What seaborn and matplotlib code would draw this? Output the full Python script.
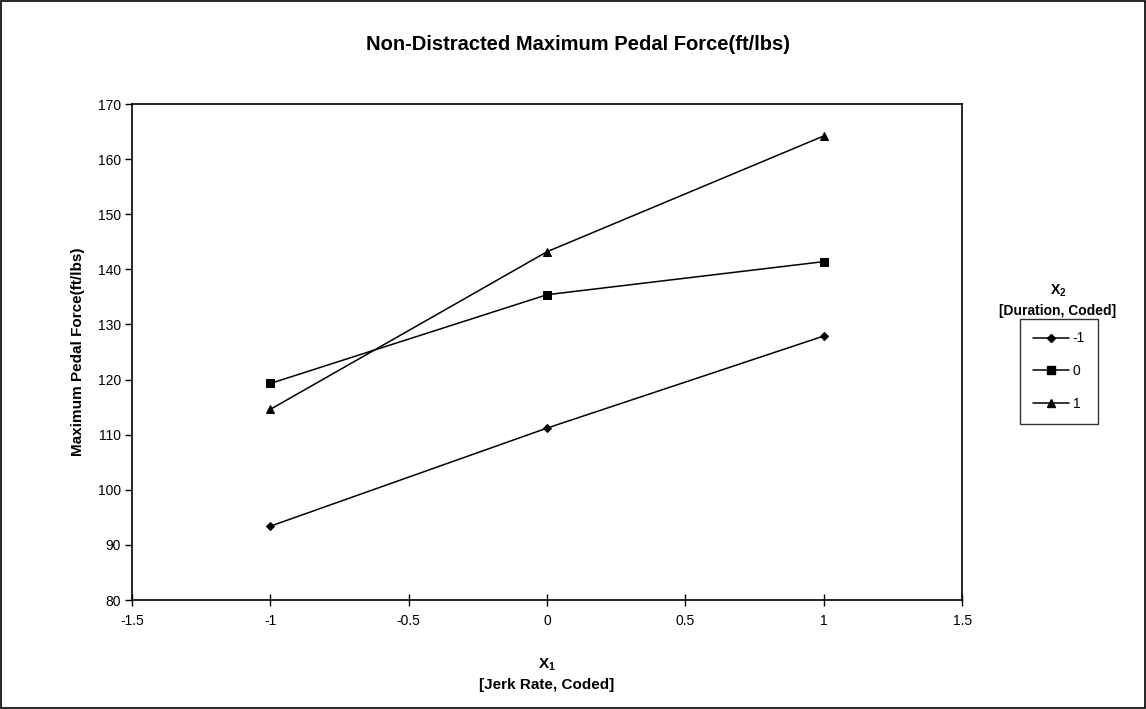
import pandas as pd
import numpy as np
import matplotlib
matplotlib.use('Agg')
import matplotlib.pyplot as plt
import seaborn as sns
from matplotlib.lines import Line2D
from matplotlib.patches import Rectangle

# values
x1_levels = [-1, 0, 1]
x2_labels = ['-1', '0', '1']
force_x2_minus = [93.4, 111.2, 127.9]
force_x2_zero = [119.3, 135.4, 141.4]
force_x2_plus = [114.6, 143.2, 164.2]

data = pd.DataFrame({
    'X1': x1_levels * 3,
    'X2': np.repeat(x2_labels, 3),
    'force': force_x2_minus + force_x2_zero + force_x2_plus,
})

sns.set_style('white')
plt.rcParams['font.family'] = ['Liberation Sans', 'DejaVu Sans']
plt.rcParams['mathtext.fontset'] = 'custom'
plt.rcParams['mathtext.rm'] = 'Liberation Sans'
plt.rcParams['mathtext.bf'] = 'Liberation Sans:bold'
for k in ['text.color', 'axes.labelcolor', 'xtick.color', 'ytick.color']:
    plt.rcParams[k] = 'black'

fig = plt.figure(figsize=(11.46, 7.09), dpi=100)
ax = fig.add_axes([0.1152, 0.1537, 0.7243, 0.6996])

markers = {'-1': 'D', '0': 's', '1': '^'}
msize = {'D': 4.3, 's': 6.3, '^': 6.4}
sns.lineplot(data=data, x='X1', y='force', style='X2', markers=markers,
             dashes=False, color='black', linewidth=1.1, markersize=6.5,
             markeredgecolor='black', legend=False, ax=ax)
for ln in ax.lines:
    m = ln.get_marker()
    m = m.get_marker() if hasattr(m, 'get_marker') else m
    if m in msize:
        ln.set_markersize(msize[m])

ax.set_xlim(-1.5, 1.5)
ax.set_ylim(80, 170)
ax.set_xticks(np.arange(-1.5, 1.51, 0.5))
ax.set_xticklabels(['-1.5', '-1', '-0.5', '0', '0.5', '1', '1.5'])
ax.set_yticks(np.arange(80, 171, 10))
for s in ax.spines.values():
    s.set_color('black')
    s.set_linewidth(1.2)
ax.tick_params(axis='x', direction='inout', length=8, width=1, labelsize=10, pad=6, bottom=True)
ax.tick_params(axis='y', direction='out', length=5, width=1, labelsize=10, pad=3, left=True)

ax.set_xlabel('$\\mathbf{X_1}$\n[Jerk Rate, Coded]', fontsize=11, fontweight='bold', labelpad=21, linespacing=1.45)
ax.set_ylabel('Maximum Pedal Force(ft/lbs)', fontsize=11, fontweight='bold', labelpad=9)
fig.text(578 / 1146, 1 - 45 / 709, 'Non-Distracted Maximum Pedal Force(ft/lbs)', ha='center', va='center',
         fontsize=14.5, fontweight='bold')

# legend outside, with title above the box
handles = [Line2D([], [], color='black', lw=1.1, marker=markers[k], markersize=msize[markers[k]],
                  markerfacecolor='black', markeredgecolor='black') for k in x2_labels]
leg = fig.legend(handles, x2_labels, loc='upper left', bbox_to_anchor=(1020 / 1146, 1 - 319 / 709),
                 frameon=True, fancybox=False, edgecolor='black', fontsize=10,
                 handlelength=2.6, handletextpad=0.3, labelspacing=1.35, borderpad=0.9, borderaxespad=0)
leg.get_frame().set_linewidth(1)
fig.text(1058 / 1146, 1 - 291 / 709, '$\\mathbf{X_2}$', ha='center', va='center', fontsize=10, fontweight='bold')
fig.text(1058 / 1146, 1 - 311 / 709, '[Duration, Coded]', ha='center', va='center', fontsize=10, fontweight='bold')

fig.patches.append(Rectangle((0.001, 0.002), 0.998, 0.996, transform=fig.transFigure, fill=False,
                             edgecolor='black', linewidth=1.2))

plt.savefig('out.png', dpi=100)
